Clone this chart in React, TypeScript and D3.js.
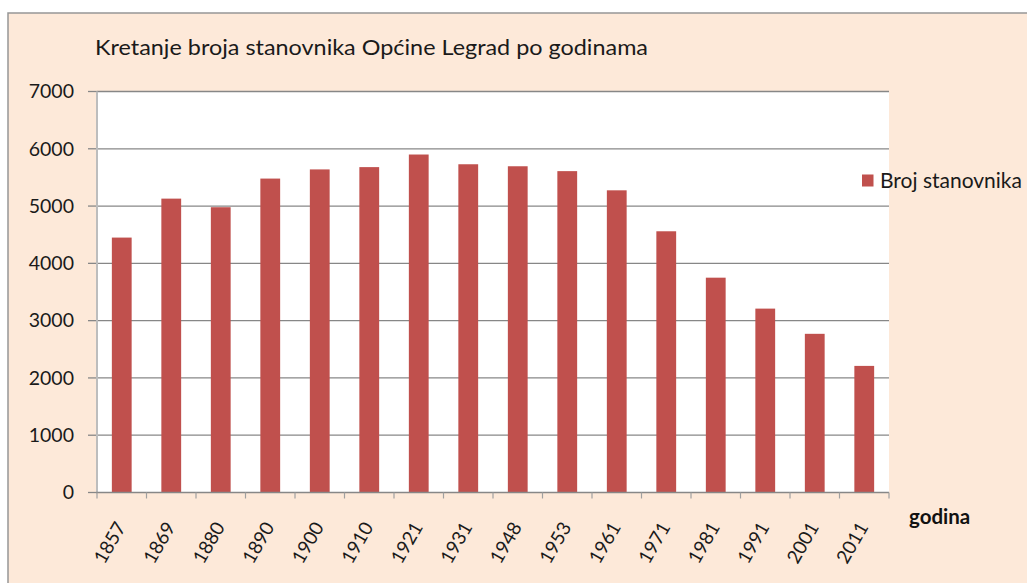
import * as d3 from 'd3';

// Kretanje broja stanovnika Općine Legrad
const years = ['1857', '1869', '1880', '1890', '1900', '1910', '1921', '1931', '1948', '1953', '1961', '1971', '1981', '1991', '2001', '2011'];
const population = [4450, 5130, 4980, 5480, 5640, 5680, 5900, 5730, 5695, 5610, 5275, 4560, 3750, 3210, 2770, 2210];
const yTicks = [0, 1000, 2000, 3000, 4000, 5000, 6000, 7000];

const title = 'Kretanje broja stanovnika Općine Legrad po godinama';
const seriesName = 'Broj stanovnika';
const xAxisTitle = 'godina';

const W = 1027;
const H = 583;
const plot = { left: 97, top: 91.5, right: 889, bottom: 492.5 };
const FONT = 'Lato, "Open Sans", sans-serif';
const BAR = '#C0504D';
const BG = '#FDE9D9';
const GRID = '#878787';

export default function App() {
  const x = d3
    .scaleBand<string>()
    .domain(years)
    .range([plot.left, plot.right])
    .paddingInner(0.6)
    .paddingOuter(0.3);
  const y = d3.scaleLinear().domain([0, 7000]).range([plot.bottom, plot.top]);

  const step = x.step();
  const boundaries = years.map((yr) => (x(yr) ?? 0) - step * 0.3);
  boundaries.push(plot.right);

  return (
    <svg width={W} height={H} style={{ position: 'absolute', left: 0, top: 0, background: '#fff' }}>
      <rect x={8} y={13} width={W + 10} height={H + 10} fill={BG} stroke="#969696" strokeWidth={1.5} />
      <text x={95} y={55} fontFamily={FONT} fontSize={22} textLength={553} lengthAdjust="spacingAndGlyphs" fill="#1a1a1a">{title}</text>

      <rect x={plot.left} y={plot.top} width={plot.right - plot.left} height={plot.bottom - plot.top} fill="#fff" />

      {yTicks.map((t) => (
        <g key={t}>
          {t > 0 && <line x1={plot.left} x2={plot.right} y1={y(t)} y2={y(t)} stroke={GRID} strokeWidth={1.3} />}
          <line x1={plot.left - 9} x2={plot.left} y1={y(t)} y2={y(t)} stroke={GRID} strokeWidth={1.3} />
          <text x={74} y={y(t)} dy="0.35em" textAnchor="end" fontFamily={FONT} fontSize={19.5} fill="#1a1a1a">{t}</text>
        </g>
      ))}

      {years.map((yr, i) => (
        <rect key={yr} x={x(yr)} y={y(population[i])} width={x.bandwidth()} height={plot.bottom - y(population[i])} fill={BAR} />
      ))}

      <line x1={plot.left} x2={plot.left} y1={plot.top} y2={plot.bottom} stroke="#bdbdbd" strokeWidth={2} />
      <line x1={plot.left - 1} x2={plot.right} y1={plot.bottom} y2={plot.bottom} stroke={GRID} strokeWidth={1.3} />
      {boundaries.map((bx, i) => (
        <line key={i} x1={bx} x2={bx} y1={plot.bottom} y2={plot.bottom + 6} stroke="#a0a0a0" strokeWidth={1.2} />
      ))}

      {years.map((yr) => {
        const cx = (x(yr) ?? 0) + x.bandwidth() / 2 - 1;
        return (
          <text key={yr} transform={`translate(${cx},${plot.bottom + 31}) rotate(-60)`} textAnchor="end" dy="0.35em" fontFamily={FONT} fontSize={19} fill="#1a1a1a">
            {yr}
          </text>
        );
      })}

      <text x={909} y={524} fontFamily={FONT} fontSize={20.5} fontWeight="bold" fill="#111">{xAxisTitle}</text>

      <rect x={862} y={174.5} width={11.5} height={12} fill={BAR} />
      <text x={880} y={188} fontFamily={FONT} fontSize={21} fill="#1a1a1a">{seriesName}</text>
    </svg>
  );
}
